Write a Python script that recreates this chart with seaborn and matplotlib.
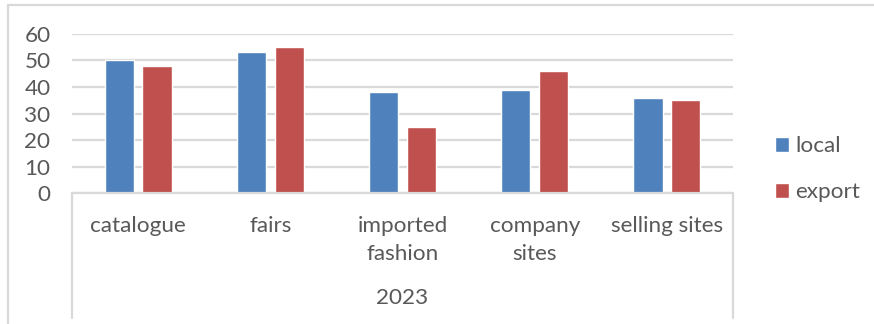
import matplotlib
matplotlib.use("Agg")
import matplotlib.pyplot as plt
from matplotlib.lines import Line2D
import seaborn as sns
import pandas as pd

categories = ["catalogue", "fairs", "imported\nfashion", "company\nsites", "selling sites"]
local = [50, 53, 38, 39, 36]
export = [48, 55, 25, 46, 35]
series_names = ["local", "export"]
group_label = "2023"
y_ticks = [0, 10, 20, 30, 40, 50, 60]

colors = {"local": "#4F81BD", "export": "#C0504D"}
grid_color = "#D9D9D9"
text_color = "#595959"
fs = 16.2

sns.set_theme(style="white")
plt.rcParams["font.family"] = ["Lato", "DejaVu Sans"]

df = pd.DataFrame({
    "category": categories * 2,
    "series": [series_names[0]] * len(categories) + [series_names[1]] * len(categories),
    "value": local + export,
})

W, H = 874, 324
fig = plt.figure(figsize=(W / 100, H / 100), dpi=100)
ax = fig.add_axes([72 / W, 1 - 193.3 / H, 661 / W, (193.3 - 33.7) / H])

sns.barplot(data=df, x="category", y="value", hue="series", order=categories,
            hue_order=series_names, palette=colors, width=0.572, gap=0.23,
            saturation=1, errorbar=None, ax=ax, legend=True)

ax.set_ylim(0, 60)
ax.set_xlim(-0.5, len(categories) - 0.5)
ax.set_yticks(y_ticks)
ax.yaxis.grid(True, color=grid_color, linewidth=1.6)
ax.set_axisbelow(True)
for s in ax.spines.values():
    s.set_visible(False)
ax.set_xlabel("")
ax.set_ylabel("")
ax.tick_params(axis="y", length=0, pad=15.5, labelsize=fs, labelcolor=text_color)
ax.tick_params(axis="x", length=0, pad=16.5, labelsize=fs, labelcolor=text_color)
for lbl in ax.get_xticklabels():
    lbl.set_linespacing(1.5)

# category axis frame: baseline plus vertical end lines running down
ax.plot([0, 1], [0, 0], transform=ax.transAxes, color=grid_color, lw=1.6, clip_on=False)
x_l, x_r = 72 / W, 733 / W
y_axis = 1 - 193.3 / H
fig.add_artist(Line2D([x_l, x_l], [y_axis, 1 - 318 / H], color=grid_color, lw=1.6))
fig.add_artist(Line2D([x_r, x_r], [y_axis, 1 - 318 / H], color=grid_color, lw=1.6))

fig.text((72 + 733) / 2 / W, 1 - 298 / H, group_label, ha="center", va="center",
         fontsize=fs, color=text_color)

# chart area border
fig.add_artist(Line2D([8 / W, 1], [1 - 4.5 / H, 1 - 4.5 / H], color=grid_color, lw=1.6))
fig.add_artist(Line2D([8 / W, 8 / W], [1 - 4.5 / H, 0], color=grid_color, lw=1.6))

leg = ax.legend(loc="upper left", bbox_to_anchor=(775 / W, 1 - 136.5 / H),
                bbox_transform=fig.transFigure, frameon=False, fontsize=fs,
                handlelength=0.6, handleheight=0.6, handletextpad=0.3,
                labelspacing=1.15, borderaxespad=0, borderpad=0)
for t in leg.get_texts():
    t.set_color(text_color)

fig.savefig("out.png", dpi=100)
